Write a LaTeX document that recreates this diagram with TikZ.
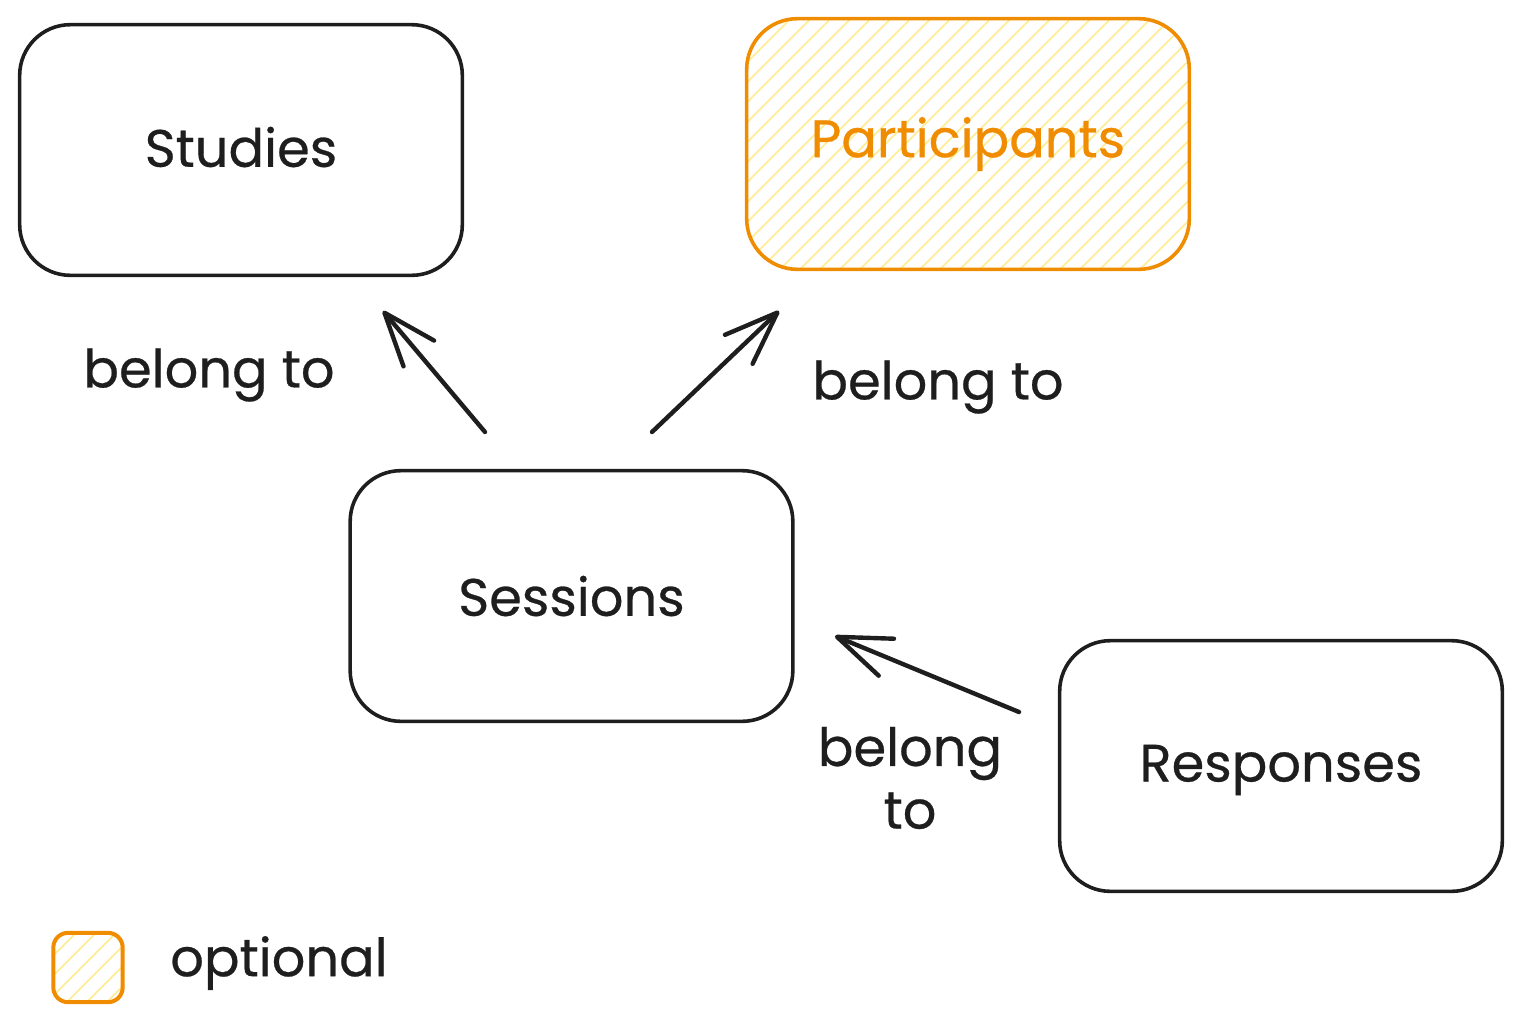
\documentclass[tikz,border=0pt]{standalone}
\usepackage{fontspec}
\setmainfont{Poppins}[FakeBold=0.5]
\usetikzlibrary{arrows.meta}
\definecolor{ink}{HTML}{1E1E1E}
\definecolor{orng}{HTML}{F08C00}
\definecolor{hatchc}{HTML}{FFEC99}
\begin{document}
\begin{tikzpicture}[x=0.75pt,y=-0.75pt,
  txt/.style={text=ink, font=\fontsize{39.5}{47}\selectfont, inner sep=0pt, align=center},
  box/.style={draw=ink, line width=2.7pt, rounded corners=38pt, minimum width=332pt, minimum height=188pt, inner sep=0pt},
  hatched/.style={path picture={
    \foreach \k in {0,...,45}{
      \draw[hatchc, line width=1.3pt] ([xshift=\k*15pt-230pt]path picture bounding box.south west) -- ++(420pt,420pt);
    }}},
  optbox/.style={box, hatched, draw=orng},
  arr/.style={draw=ink, line width=3.3pt, line cap=round,
    -{Straight Barb[length=40pt, width=30pt, line cap=round, line join=round]}}
]
\useasboundingbox (0,0) rectangle (1521,1022);

% boxes
\node[box] (studies) at (241,150) {};
\node[optbox] (participants) at (968,144) {};
\node[box] (sessions) at (571.5,596) {};
\node[box] (responses) at (1281,766) {};
\node[txt] (studiesT) at (241,147) {Studies};
\node[txt, text=orng] (participantsT) at (968,144) {Participants};
\node[txt] (sessionsT) at (571.5,596) {Sessions};
\node[txt] (responsesT) at (1281,770) {Responses};

% legend
\node[optbox, rounded corners=11pt, minimum width=52pt, minimum height=52pt, line width=3pt] (legend) at (88,967.5) {};
\node[txt, anchor=west] (optional) at (170,963) {optional};

% connector ends
\coordinate (a1s) at (485,432);
\coordinate (a1e) at (383,311);
\coordinate (a2s) at (652,432);
\coordinate (a2e) at (779,311);
\coordinate (a3s) at (1019,712);
\coordinate (a3e) at (835,636);

\draw[arr] (a1s) -- (a1e);
\draw[arr] (a2s) -- (a2e);
\draw[arr] (a3s) -- (a3e);

% labels
\node[txt] (l1) at (209,375) {belong to};
\node[txt] (l2) at (938,387) {belong to};
\node[txt] (l3) at (910,778) {belong\\to};
\end{tikzpicture}
\end{document}
